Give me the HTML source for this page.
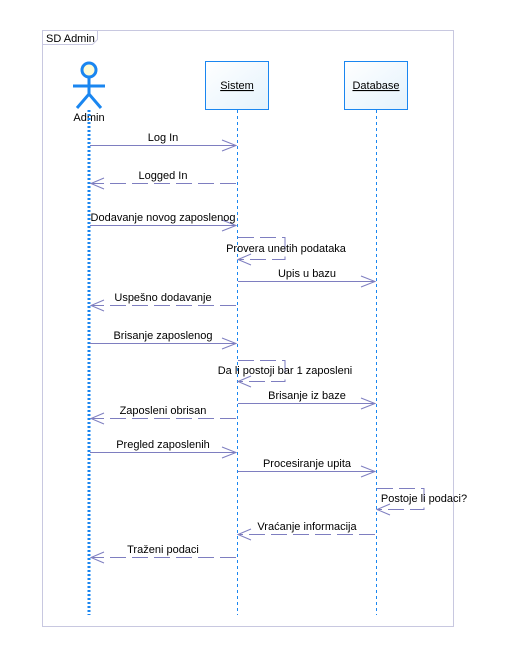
<!DOCTYPE html>
<html><head><meta charset="utf-8"><style>body{margin:0;background:#fff}svg{display:block}text{font-family:"Liberation Sans",sans-serif;font-size:11px;fill:#000}</style></head><body>
<svg width="526" height="648" xmlns="http://www.w3.org/2000/svg">
<defs><linearGradient id="g" x1="0" y1="0" x2="1" y2="1"><stop offset="0" stop-color="#fff"/><stop offset="1" stop-color="#e4f2fc"/></linearGradient></defs>
<rect x="42.5" y="30.5" width="411" height="596" fill="none" stroke="#c8c8e0"/>
<path d="M42.5 44.5H92.5L97.5 39.5V30.5" fill="none" stroke="#c8c8e0"/>
<text x="46" y="42">SD Admin</text>
<!-- actor -->
<circle cx="89" cy="70" r="7" fill="#fdfbd8" stroke="#1a86f0" stroke-width="3"/>
<g stroke="#1a86f0" stroke-width="3" fill="none"><path d="M89 77V94M73 86H105M77 108L89 94L101 108"/></g>
<text x="89" y="121" text-anchor="middle">Admin</text>
<line x1="89" y1="110" x2="89" y2="615" stroke="#1a86f0" stroke-width="3" stroke-dasharray="2,2"/>
<rect x="205.5" y="61.5" width="63" height="48" fill="url(#g)" stroke="#1a86f0"/>
<text x="237" y="89" text-anchor="middle" text-decoration="underline">Sistem</text>
<rect x="344.5" y="61.5" width="63" height="48" fill="url(#g)" stroke="#1a86f0"/>
<text x="376" y="89" text-anchor="middle" text-decoration="underline">Database</text>
<g stroke="#1a86f0" stroke-dasharray="3,3"><line x1="237.5" y1="110" x2="237.5" y2="615"/><line x1="376.5" y1="110" x2="376.5" y2="615"/></g>
<g stroke="#7e7ec0" fill="none">
<path d="M90 145.5H236M222 140L236 145.5L222 151"/>
<path d="M236 183.5H91" stroke-dasharray="16,6"/><path d="M104 178L91 183.5L104 189"/>
<path d="M90 225.5H236M222 220L236 225.5L222 231"/>
<path d="M238 237.5H285V259.5H238" stroke-dasharray="16,6"/><path d="M251 254L238 259.5L251 265"/>
<path d="M238 281.5H375M361 276L375 281.5L361 287"/>
<path d="M236 305.5H91" stroke-dasharray="16,6"/><path d="M104 300L91 305.5L104 311"/>
<path d="M90 343.5H236M222 338L236 343.5L222 349"/>
<path d="M238 360.5H285V381.5H238" stroke-dasharray="16,6"/><path d="M251 376L238 381.5L251 387"/>
<path d="M238 403.5H375M361 398L375 403.5L361 409"/>
<path d="M236 418.5H91" stroke-dasharray="16,6"/><path d="M104 413L91 418.5L104 424"/>
<path d="M90 452.5H236M222 447L236 452.5L222 458"/>
<path d="M238 471.5H375M361 466L375 471.5L361 477"/>
<path d="M377 488.5H424V509.5H377" stroke-dasharray="16,6"/><path d="M390 504L377 509.5L390 515"/>
<path d="M375 534.5H238" stroke-dasharray="16,6"/><path d="M251 529L238 534.5L251 540"/>
<path d="M236 557.5H91" stroke-dasharray="16,6"/><path d="M104 552L91 557.5L104 563"/>
</g>
<g text-anchor="middle">
<text x="163" y="141">Log In</text>
<text x="163" y="179">Logged In</text>
<text x="163" y="221">Dodavanje novog zaposlenog</text>
<text x="286" y="252">Provera unetih podataka</text>
<text x="307" y="277">Upis u bazu</text>
<text x="163" y="301">Uspešno dodavanje</text>
<text x="163" y="339">Brisanje zaposlenog</text>
<text x="285" y="374">Da li postoji bar 1 zaposleni</text>
<text x="307" y="399">Brisanje iz baze</text>
<text x="163" y="414">Zaposleni obrisan</text>
<text x="163" y="448">Pregled zaposlenih</text>
<text x="307" y="467">Procesiranje upita</text>
<text x="424" y="502">Postoje li podaci?</text>
<text x="307" y="530">Vraćanje informacija</text>
<text x="163" y="553">Traženi podaci</text>
</g>
</svg>
</body></html>
